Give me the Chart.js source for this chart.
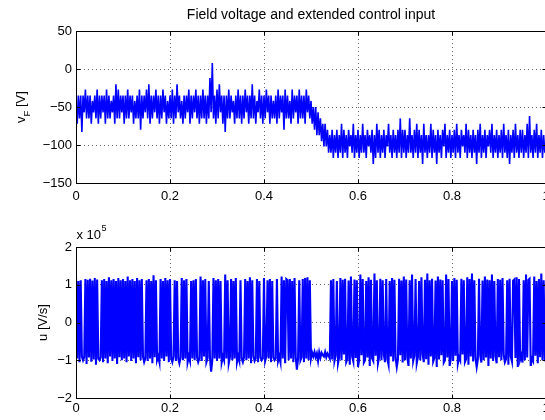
<!DOCTYPE html>
<html>
<head>
<meta charset="utf-8">
<script src="https://cdn.jsdelivr.net/npm/chart.js@4.4.1/dist/chart.umd.min.js"></script>
<style>
  html, body { margin: 0; padding: 0; background: #fff; overflow: hidden; }
  .panel { position: absolute; left: 0; width: 560px; height: 210px; }
</style>
</head>
<body>
<div class="panel" style="top:0"><canvas id="fieldChart" width="560" height="210"></canvas></div>
<div class="panel" style="top:210px"><canvas id="inputChart" width="560" height="210"></canvas></div>
<script>
// sample interval of both recorded signals [s]
const sampleStep = 0.0025;

const timeTicks = [0, 0.2, 0.4, 0.6, 0.8, 1];
const fieldTicks = [50, 0, -50, -100, -150];
const inputTicks = [2, 1, 0, -1, -2];

// field voltage v_F [V]
const fieldVoltage = [
  -42,-72,-35,-65,-35,-83,-35,-57,-27,-65,-35,-65,-35,-72,-42,-57,-35,-65,-27,-72,
  -35,-65,-35,-57,-35,-72,-27,-65,-35,-65,-42,-57,-35,-72,-20,-65,-27,-65,-35,-57,
  -35,-72,-35,-65,-27,-65,-35,-57,-35,-72,-42,-65,-35,-65,-27,-80,-35,-65,-35,-57,
  -27,-65,-20,-72,-35,-65,-35,-57,-27,-65,-35,-72,-35,-65,-27,-57,-35,-72,-42,-65,
  -35,-65,-27,-72,-35,-65,-20,-57,-35,-65,-42,-72,-35,-65,-35,-57,-27,-72,-35,-65,
  -35,-57,-27,-65,-35,-72,-35,-65,-27,-65,-35,-72,-35,-65,-12,-57,8,-65,-35,-72,
  -27,-65,-20,-57,-35,-72,-35,-83,-35,-65,-27,-65,-35,-57,-42,-72,-35,-65,-27,-65,
  -35,-72,-35,-65,-27,-57,-35,-72,-35,-65,-20,-65,-35,-72,-42,-57,-27,-65,-35,-72,
  -35,-65,-27,-57,-35,-72,-35,-65,-42,-65,-35,-72,-27,-65,-35,-57,-35,-80,-27,-65,
  -35,-65,-42,-72,-27,-65,-35,-57,-35,-72,-27,-65,-35,-65,-35,-72,-27,-57,-35,-65,
  -42,-72,-50,-80,-50,-87,-57,-87,-65,-95,-72,-102,-72,-102,-80,-110,-87,-110,-80,-117,
  -87,-110,-80,-117,-87,-110,-72,-117,-80,-110,-87,-117,-80,-102,-87,-110,-72,-117,-87,-110,
  -80,-117,-87,-110,-72,-110,-87,-117,-80,-102,-87,-110,-80,-125,-87,-117,-72,-110,-80,-117,
  -87,-110,-80,-117,-87,-102,-72,-110,-87,-117,-80,-110,-87,-117,-80,-110,-65,-117,-80,-110,
  -80,-117,-87,-110,-65,-110,-87,-117,-80,-110,-72,-117,-80,-110,-87,-125,-72,-110,-87,-117,
  -87,-110,-72,-117,-80,-110,-87,-125,-80,-110,-87,-117,-80,-102,-72,-117,-87,-110,-80,-117,
  -87,-110,-80,-117,-72,-110,-87,-117,-80,-102,-87,-110,-72,-117,-80,-110,-87,-117,-80,-110,
  -87,-125,-80,-110,-72,-117,-87,-110,-80,-117,-87,-102,-80,-110,-72,-117,-87,-110,-80,-117,
  -87,-110,-80,-117,-72,-110,-87,-117,-80,-125,-87,-110,-80,-117,-72,-110,-87,-117,-80,-110,
  -80,-117,-87,-110,-72,-117,-62,-110,-87,-117,-80,-110,-72,-117,-87,-110,-80,-117,-87,-110,
  -95
];

// extended control input u, in units of 1e5 V/s
const controlInput = [
  1.22,-0.95,1.1,-1.05,1.12,-0.9,-1.0,-0.92,1.15,-1.1,1.13,-0.93,1.16,-1.04,1.11,-0.98,1.18,-1.12,1.14,-0.96,
  -1.0,-0.92,1.12,-1.05,1.15,-0.95,1.1,-1.08,1.2,-0.9,1.12,-1.02,1.15,-0.95,1.1,-1.1,1.18,-0.92,1.12,-1.0,
  1.15,-0.95,1.1,-1.05,1.22,-0.9,1.12,-1.02,1.15,-0.95,1.1,-1.08,1.18,-0.92,1.12,-1.0,1.15,-0.9,-1.05,-0.95,
  1.12,-1.02,1.15,-0.95,1.1,-1.08,1.25,-0.92,1.12,-1.0,-0.9,-1.05,1.15,-0.95,1.1,-1.02,1.18,-0.9,1.12,-1.05,
  1.15,-0.95,-1.05,-0.9,1.12,-1.02,1.1,-0.95,-1.08,-0.92,1.18,-1.0,1.12,-0.95,1.15,-1.05,-0.9,-1.02,1.1,-0.95,
  1.12,-1.0,1.15,-0.92,-1.05,-0.95,1.22,-1.02,1.12,-0.9,1.15,-1.05,-0.95,1.1,-0.92,-1.3,-1.0,1.18,-0.95,1.12,
  -1.02,1.15,-0.95,1.1,-1.05,-0.9,-1.0,1.27,-0.95,1.12,-1.08,-0.92,1.15,-1.0,1.1,-0.95,1.18,-1.05,-0.9,-1.02,
  1.12,-0.95,-1.05,-0.92,1.15,-1.0,1.1,-0.95,1.2,-1.08,1.12,-0.9,-1.02,-0.95,1.15,-1.05,1.1,-0.92,-1.0,-0.95,
  1.18,-1.02,-0.9,1.12,-0.95,1.15,-1.05,1.1,-0.92,-1.0,-0.95,1.15,-1.02,-0.9,-1.05,1.22,-0.95,1.12,-1.08,1.15,
  1.12,-1.0,1.15,-0.95,1.1,-1.05,1.18,-0.92,-1.25,-0.95,1.12,-1.0,-0.92,1.15,-1.05,1.18,-0.95,1.2,-1.0,1.12,
  -0.95,-0.8,-0.9,-0.78,-0.92,-0.82,-1.02,-0.79,-0.93,-0.8,-0.86,-0.9,-0.78,-0.92,-0.82,-0.88,-0.95,1.12,-0.98,1.15,
  -1.02,-0.88,1.1,-1.08,-0.92,1.18,-1.0,1.13,-0.85,1.16,-1.05,-0.97,1.11,-1.12,1.22,-0.9,-1.03,1.14,-0.94,1.12,
  -1.18,-0.98,1.27,-0.87,1.15,-1.06,-1.0,1.1,-0.93,1.2,-1.15,1.13,-0.95,-1.02,1.3,-0.88,1.12,-1.08,-0.92,1.16,
  -1.0,1.12,-0.85,-1.05,1.15,-0.97,-1.12,1.1,-0.9,1.18,-1.03,1.13,-0.94,-1.18,-0.98,1.16,-0.87,1.11,-1.06,1.22,
  -1.0,1.14,-0.93,-1.15,1.12,-0.95,1.27,-1.02,-0.88,1.15,-1.08,-0.92,1.1,-1.0,1.2,-0.85,-1.05,1.13,-0.97,1.3,
  -1.12,1.12,-0.9,1.16,-1.03,-0.94,1.11,-1.18,1.22,-0.98,1.14,-0.87,1.12,-1.06,-1.0,1.27,-0.93,1.15,-1.15,-0.95,
  1.1,-1.02,1.18,-0.88,1.13,-1.08,-0.92,-1.0,1.16,-0.85,1.12,-1.05,-0.97,1.2,-1.12,1.15,-0.9,1.3,-1.03,1.12,
  -0.94,-1.18,-0.98,1.16,-0.87,-1.06,1.11,-1.0,1.22,-0.93,1.14,-1.15,1.12,-0.95,1.27,-1.02,1.1,-0.88,-1.08,1.15,
  -0.92,1.13,-1.0,1.18,-0.85,-1.05,-0.97,1.12,-1.12,1.16,-0.9,-1.03,1.11,1.14,-0.94,1.2,-1.18,1.15,-0.98,-0.87,
  -1.06,1.12,-1.0,1.27,-0.93,1.13,1.16,-1.15,-0.95,-1.02,1.22,-0.88,1.1,-1.08,1.15,-0.92,1.3,-1.0,1.12,-0.97,
  -1.05
];

const fontFamily = '"Liberation Sans", Arial, Helvetica, sans-serif';
Chart.defaults.font.family = fontFamily;
Chart.defaults.font.size = 13;
Chart.defaults.color = '#000';

const minus = v => String(v).replace('-', '\u2212');

// texts around each panel, keyed by canvas id
const panelText = {
  fieldChart: {
    title: 'Field voltage and extended control input',
    labelX: 25,
    label: [['v', 13, 0], ['F', 9.5, 5], [' [V]', 13, 0]]
  },
  inputChart: {
    exponent: '5',
    labelX: 47,
    label: [['u [V/s]', 13, 0]]
  }
};

// box, inward ticks, title, y label with subscript and the exponent
const axesBox = {
  id: 'axesBox',
  afterDraw(chart) {
    const txt = panelText[chart.canvas.id];
    const { ctx, chartArea: a, scales } = chart;
    const L = Math.round(a.left) + 0.5, R = Math.round(a.right) + 0.5;
    const T = Math.round(a.top) + 0.5, B = Math.round(a.bottom) + 0.5;
    ctx.save();
    ctx.strokeStyle = '#000';
    ctx.lineWidth = 1;
    ctx.setLineDash([]);
    ctx.strokeRect(L, T, R - L, B - T);
    ctx.beginPath();
    for (const t of scales.x.ticks) {
      const px = Math.round(scales.x.getPixelForValue(t.value)) + 0.5;
      ctx.moveTo(px, B); ctx.lineTo(px, B - 4);
      ctx.moveTo(px, T); ctx.lineTo(px, T + 4);
    }
    for (const t of scales.y.ticks) {
      const py = Math.round(scales.y.getPixelForValue(t.value)) + 0.5;
      ctx.moveTo(L, py); ctx.lineTo(L + 4, py);
      ctx.moveTo(R, py); ctx.lineTo(R - 4, py);
    }
    ctx.stroke();

    ctx.fillStyle = '#000';
    ctx.textBaseline = 'alphabetic';
    if (txt.title) {
      ctx.font = '14px ' + fontFamily;
      ctx.textAlign = 'center';
      ctx.fillText(txt.title, (a.left + a.right) / 2, 18.5);
    }
    if (txt.exponent) {
      ctx.textAlign = 'left';
      ctx.font = '13px ' + fontFamily;
      ctx.fillText('x 10', a.left + 0.5, a.top - 8.5);
      const w = ctx.measureText('x 10').width;
      ctx.font = '9px ' + fontFamily;
      ctx.fillText(txt.exponent, a.left + 1 + w, a.top - 16);
    }
    // rotated y label, drawn piece by piece so the subscript can drop down
    ctx.translate(txt.labelX, (a.top + a.bottom) / 2);
    ctx.rotate(-Math.PI / 2);
    ctx.textAlign = 'left';
    let total = 0;
    for (const [s, size] of txt.label) {
      ctx.font = size + 'px ' + fontFamily;
      total += ctx.measureText(s).width;
    }
    let cx = -total / 2;
    for (const [s, size, shift] of txt.label) {
      ctx.font = size + 'px ' + fontFamily;
      ctx.fillText(s, cx, shift);
      cx += ctx.measureText(s).width;
    }
    ctx.restore();
  }
};

function makePanel(canvasId, values, yTicks, yMin, yMax, topPad, xHeight, xPad, lineW) {
  const points = values.map((v, i) => ({ x: i * sampleStep, y: v }));
  return new Chart(document.getElementById(canvasId), {
    type: 'line',
    data: {
      datasets: [{
        data: points,
        borderColor: '#0000ff',
        borderWidth: lineW,
        pointRadius: 0,
        tension: 0,
        fill: false
      }]
    },
    options: {
      responsive: false,
      animation: false,
      devicePixelRatio: 1,
      events: [],
      layout: { padding: { top: topPad, left: 0, right: 14, bottom: 0 } },
      scales: {
        x: {
          type: 'linear',
          min: 0,
          max: 1,
          afterBuildTicks: s => { s.ticks = timeTicks.map(v => ({ value: v })); },
          afterFit: s => { s.height = xHeight; s.paddingLeft = 0; s.paddingRight = 0; },
          ticks: { padding: xPad, maxRotation: 0, autoSkip: false, callback: v => String(+v.toFixed(1)) },
          grid: { color: 'rgba(0,0,0,0.6)', lineWidth: 1, drawTicks: false },
          border: { display: false, dash: [1, 3] }
        },
        y: {
          min: yMin,
          max: yMax,
          afterBuildTicks: s => { s.ticks = yTicks.map(v => ({ value: v })); },
          afterFit: s => { s.width = 76; },
          ticks: { padding: 4, callback: v => minus(v) },
          grid: { color: 'rgba(0,0,0,0.6)', lineWidth: 1, drawTicks: false },
          border: { display: false, dash: [1, 3] }
        }
      },
      plugins: {
        legend: { display: false },
        tooltip: { enabled: false }
      }
    },
    plugins: [axesBox]
  });
}

makePanel('fieldChart', fieldVoltage, fieldTicks, -150, 50, 31, 27, 6, 1.6);
makePanel('inputChart', controlInput, inputTicks, -2, 2, 37, 22, 3, 2.1);
</script>
</body>
</html>
